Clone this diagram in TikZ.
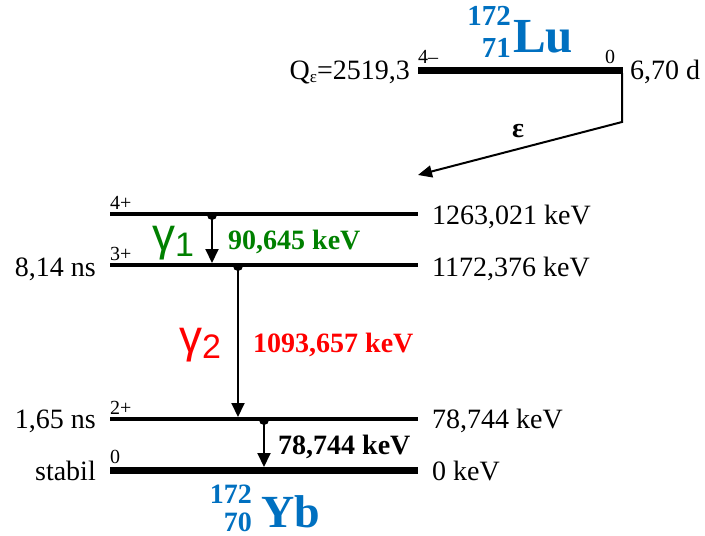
\documentclass[tikz,border=0pt]{standalone}
\usepackage{fontspec}
\setmainfont{Liberation Serif}
\newfontfamily\grsans{Liberation Sans}
\usetikzlibrary{arrows.meta}
\definecolor{nucblue}{RGB}{0,112,192}
\definecolor{ggreen}{RGB}{0,128,0}
\definecolor{gred}{RGB}{255,0,0}
\begin{document}
\begin{tikzpicture}[x=1pt,y=-1pt,
  level/.style={line width=4pt},
  glevel/.style={line width=7pt},
  txt/.style={font=\fontsize{28}{32}\selectfont, inner sep=0pt},
  spin/.style={font=\fontsize{20}{22}\selectfont, inner sep=0pt, anchor=base west},
  gam/.style={line width=2pt, -{Triangle[length=14pt,width=13pt]}},
  gdot/.style={fill=black},
  glab/.style={font=\fontsize{28}{32}\selectfont\bfseries, inner sep=0pt, anchor=base west},
  gsym/.style={inner sep=0pt, anchor=base west},
  nuc/.style={text=nucblue, inner sep=0pt, font=\bfseries},
]
\useasboundingbox (0,0) rectangle (705,536);

% ---- parent level 172Lu
\coordinate (LuA) at (418,70);
\coordinate (LuB) at (623,70);
\draw[glevel] (LuA) -- (LuB);
\node[spin] (sLu) at (418,63) {4–};
\node[spin] (sLu0) at (605,63) {0};
\node[txt, anchor=base east] (Q) at (410,79) {Q\raisebox{-3pt}{\fontsize{17}{18}\selectfont ε}=2519,3};
\node[txt, anchor=base west] (tLu) at (630,79) {6,70 d};
\node[nuc, anchor=base west, font=\fontsize{49}{50}\selectfont\bfseries] (Lu) at (513,52) {Lu};
\node[nuc, anchor=base east, font=\fontsize{29}{30}\selectfont\bfseries] (LuA1) at (511,25) {172};
\node[nuc, anchor=base east, font=\fontsize{29}{30}\selectfont\bfseries] (LuZ) at (511,57) {71};

% ---- epsilon decay
\coordinate (eps0) at (622,73);
\coordinate (eps1) at (622,122);
\coordinate (eps2) at (418,175);
\draw[line width=2pt, -{Triangle[length=14pt,width=12pt]}] (eps0) -- (eps1) -- (eps2);
\node[font=\fontsize{28}{30}\selectfont\bfseries, inner sep=0pt, anchor=base west] (eps) at (512,137) {ε};

% ---- daughter levels 172Yb
\coordinate (L4a) at (110,214); \coordinate (L4b) at (418,214);
\coordinate (L3a) at (110,265); \coordinate (L3b) at (418,265);
\coordinate (L2a) at (110,419); \coordinate (L2b) at (418,419);
\coordinate (L0a) at (110,470); \coordinate (L0b) at (418,470);
\draw[level] (L4a) -- (L4b);
\draw[level] (L3a) -- (L3b);
\draw[level] (L2a) -- (L2b);
\draw[glevel] (L0a) -- (L0b);

\node[spin] (s4) at (110,209) {4+};
\node[spin] (s3) at (110,260) {3+};
\node[spin] (s2) at (110,414) {2+};
\node[spin] (s0) at (110,463) {0};

\node[txt, anchor=base west] (e4) at (432,224) {1263,021 keV};
\node[txt, anchor=base west] (e3) at (432,276) {1172,376 keV};
\node[txt, anchor=base west] (e2) at (432,428) {78,744 keV};
\node[txt, anchor=base west] (e0) at (432,480) {0 keV};

\node[txt, anchor=base east] (t3) at (96,276) {8,14 ns};
\node[txt, anchor=base east] (t2) at (96,428) {1,65 ns};
\node[txt, anchor=base east] (t0) at (96,480) {stabil};

\node[nuc, anchor=base west, font=\fontsize{46}{48}\selectfont\bfseries] (Yb) at (261,527) {Yb};
\node[nuc, anchor=base east, font=\fontsize{28}{30}\selectfont\bfseries] (YbA) at (252,503) {172};
\node[nuc, anchor=base east, font=\fontsize{28}{30}\selectfont\bfseries] (YbZ) at (252,531) {70};

% ---- gamma 1
\coordinate (g1s) at (212,214);
\coordinate (g1e) at (212,263);
\fill[gdot] (207,215) arc[start angle=180, end angle=0, radius=5] -- cycle;
\draw[gam] (g1s) -- (g1e);
\node[gsym, text=ggreen] (G1) at (152,250) {\grsans\fontsize{46}{48}\selectfont γ\raisebox{-6pt}{\fontsize{34}{36}\selectfont 1}};
\node[glab, text=ggreen] (E1) at (228,249) {90,645 keV};

% ---- gamma 2
\coordinate (g2s) at (238,265);
\coordinate (g2e) at (238,417);
\fill[gdot] (233,266) arc[start angle=180, end angle=0, radius=5] -- cycle;
\draw[gam] (g2s) -- (g2e);
\node[gsym, text=gred] (G2) at (179,352) {\grsans\fontsize{46}{48}\selectfont γ\raisebox{-6pt}{\fontsize{34}{36}\selectfont 2}};
\node[glab, text=gred] (E2) at (253,352) {1093,657 keV};

% ---- gamma 3
\coordinate (g3s) at (264,419);
\coordinate (g3e) at (264,467);
\fill[gdot] (259,420) arc[start angle=180, end angle=0, radius=5] -- cycle;
\draw[gam] (g3s) -- (g3e);
\node[glab] (E3) at (278,454) {78,744 keV};
\end{tikzpicture}
\end{document}
